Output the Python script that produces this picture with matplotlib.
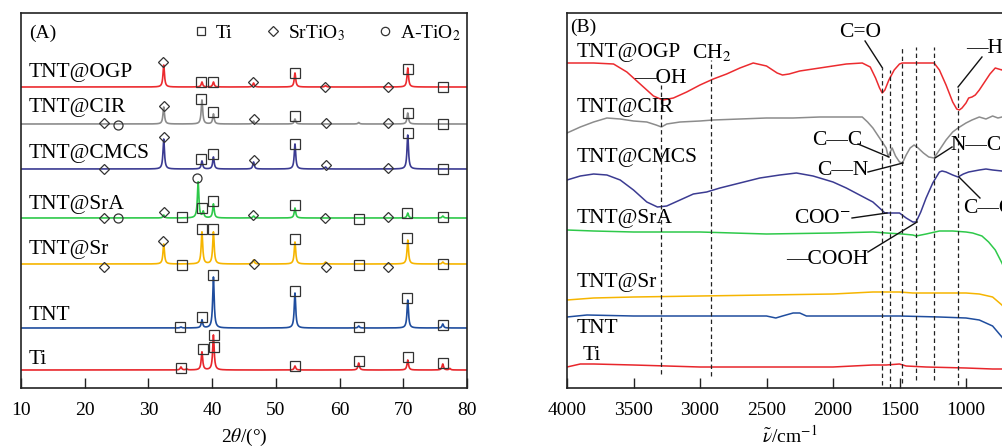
import numpy as np
import matplotlib.pyplot as plt
from matplotlib.lines import Line2D

plt.rcParams['font.family'] = ['Liberation Serif', 'DejaVu Serif']
plt.rcParams['mathtext.fontset'] = 'stix'

# ---------------- XRD (A) ----------------
samples = ['TNT@OGP', 'TNT@CIR', 'TNT@CMCS', 'TNT@SrA', 'TNT@Sr', 'TNT', 'Ti']
xrd_colors = ['#ec2b2f', '#8c8c8c', '#3b3b92', '#2ec94a', '#f6b500', '#1f4d9e', '#e8262b']
xrd_base = [301, 264, 219, 170, 124, 60, 18]

# peak positions (2theta) and heights for each pattern
xrd_pos = [
    [32.4, 38.4, 40.2, 46.5, 53.0, 57.8, 70.7],
    [32.4, 38.4, 40.2, 46.5, 53.0, 63.0, 70.7],
    [32.4, 38.4, 40.2, 46.5, 53.0, 57.8, 70.7],
    [32.4, 37.8, 38.6, 40.2, 46.5, 53.0, 70.7, 76.2],
    [32.4, 38.4, 40.2, 46.5, 53.0, 57.8, 70.7, 76.2],
    [35.1, 38.4, 40.2, 53.0, 63.0, 70.7, 76.2],
    [35.1, 36.0, 38.4, 40.2, 53.0, 63.0, 70.7, 76.2, 77.3],
]
xrd_height = [
    [22, 5, 5, 4, 14, 1.5, 19],
    [17, 24, 10, 3, 5, 1.5, 11],
    [30, 8, 12, 7, 25, 2, 34],
    [3, 36, 6, 14, 2, 10, 5, 2],
    [20, 32, 32, 4, 22, 2, 24, 2],
    [1, 8, 51, 35, 2, 28, 4],
    [3, 1, 18, 35, 4, 7, 10, 6, 1.5],
]

# phase markers: (2theta, height, phase) with s = Ti, d = SrTiO3, o = A-TiO2
xrd_marks = [
    [(32.3, 326, 'd'), (38.3, 306, 's'), (40.2, 306, 's'), (46.4, 306, 'd'), (53.0, 315, 's'),
     (57.7, 301, 'd'), (67.6, 301, 'd'), (70.7, 319, 's'), (76.3, 301, 's')],
    [(23.0, 265, 'd'), (25.3, 263, 'o'), (32.4, 282, 'd'), (38.3, 289, 's'), (40.2, 276, 's'),
     (46.5, 269, 'd'), (53.0, 272, 's'), (57.8, 265, 'd'), (67.6, 265, 'd'), (70.7, 275, 's'),
     (76.3, 264, 's')],
    [(23.0, 219, 'd'), (32.4, 251, 'd'), (38.3, 229, 's'), (40.2, 234, 's'), (46.5, 228, 'd'),
     (53.0, 244, 's'), (57.8, 223, 'd'), (67.6, 220, 'd'), (70.7, 255, 's'), (76.3, 219, 's')],
    [(23.0, 170, 'd'), (25.3, 170, 'o'), (32.4, 176, 'd'), (35.2, 171, 's'), (37.7, 210, 'o'),
     (38.4, 180, 's'), (40.2, 187, 's'), (46.4, 173, 'd'), (53.0, 183, 's'), (57.7, 170, 'd'),
     (63.0, 169, 's'), (67.6, 171, 'd'), (70.6, 175, 's'), (76.3, 171, 's')],
    [(23.0, 121, 'd'), (32.3, 147, 'd'), (35.2, 123, 's'), (38.4, 159, 's'), (40.2, 159, 's'),
     (46.5, 124, 'd'), (53.0, 149, 's'), (57.8, 121, 'd'), (63.0, 123, 's'), (67.6, 121, 'd'),
     (70.6, 150, 's'), (76.2, 124, 's')],
    [(35.0, 61, 's'), (38.4, 71, 's'), (40.2, 113, 's'), (53.0, 97, 's'), (63.0, 61, 's'),
     (70.6, 90, 's'), (76.2, 63, 's')],
    [(35.1, 20, 's'), (38.5, 39, 's'), (40.3, 41, 's'), (40.3, 53, 's'), (53.0, 22, 's'),
     (63.0, 27, 's'), (70.7, 31, 's'), (76.3, 25, 's')],
]
xrd_label_y = [316, 281, 235, 184, 139, 73, 29]

# ---------------- FTIR (B) ----------------
ftir_colors = ['#ec2b2f', '#8c8c8c', '#3b3b92', '#2ec94a', '#f6b500', '#1f4d9e', '#e8262b']
ftir_wn = [
    [4000, 3800, 3650, 3550, 3450, 3350, 3280, 3200, 3100, 3000, 2900, 2800, 2700, 2600, 2500,
     2420, 2380, 2330, 2250, 2150, 2000, 1900, 1780, 1720, 1680, 1650, 1630, 1610, 1580, 1540,
     1500, 1480, 1400, 1300, 1240, 1200, 1150, 1100, 1070, 1050, 1030, 1000, 980, 955, 930,
     900, 860, 820, 780, 730, 690, 650],
    [4000, 3900, 3800, 3700, 3600, 3500, 3400, 3330, 3290, 3250, 3150, 3000, 2900, 2700, 2500,
     2300, 2100, 1900, 1780, 1740, 1700, 1650, 1600, 1585, 1570, 1555, 1530, 1500, 1478, 1450,
     1420, 1390, 1360, 1320, 1280, 1240, 1200, 1150, 1100, 1060, 1000, 955, 900, 850, 800,
     760, 730, 650],
    [4000, 3900, 3800, 3700, 3600, 3500, 3400, 3320, 3250, 3150, 3050, 2950, 2850, 2700, 2550,
     2400, 2275, 2150, 2000, 1900, 1800, 1700, 1650, 1610, 1560, 1500, 1450, 1400, 1375, 1340,
     1300, 1250, 1200, 1180, 1150, 1100, 1060, 1020, 980, 900, 850, 800, 730, 650],
    [4000, 3800, 3500, 3000, 2500, 2000, 1700, 1600, 1480, 1400, 1375, 1300, 1200, 1100, 1000,
     950, 880, 830, 780, 730, 700, 650],
    [4000, 3800, 3500, 3000, 2500, 2000, 1700, 1550, 1500, 1400, 1300, 1000, 900, 800, 730, 650],
    [4000, 3850, 3500, 3000, 2500, 2430, 2380, 2300, 2250, 2200, 2000, 1700, 1500, 1200, 1000,
     900, 800, 730, 650],
    [4000, 3900, 3800, 3500, 3000, 2500, 2000, 1700, 1600, 1500, 1450, 1300, 1000, 800, 730, 650],
]
ftir_val = [
    [325, 325, 324, 316, 304, 292, 288, 290, 296, 303, 309, 314, 320, 325, 322,
     315, 313, 314, 317, 319, 322, 324, 325, 321, 310, 300, 295, 298, 308, 318,
     324, 325, 325, 325, 325, 318, 303, 286, 279, 278, 280, 285, 290, 291, 293,
     298, 306, 314, 320, 318, 325, 328],
    [255, 261, 266, 270, 269, 267, 266, 263, 261, 264, 266, 267, 268, 269, 270,
     270, 271, 271, 271, 266, 260, 250, 240, 231, 236, 240, 232, 226, 225, 233,
     240, 243, 240, 235, 231, 230, 238, 248, 256, 260, 265, 268, 271, 269, 272,
     270, 271, 272],
    [208, 212, 214, 213, 208, 198, 186, 181, 182, 188, 194, 196, 200, 205, 210,
     213, 215, 212, 206, 200, 193, 186, 180, 175, 175, 175, 170, 166, 166, 176,
     190, 205, 216, 217, 216, 213, 211, 214, 216, 218, 219, 218, 217, 216],
    [158, 157, 156, 156, 154, 155, 156, 155, 154, 153, 152, 154, 157, 157, 156,
     155, 152, 146, 138, 125, 116, 103],
    [88, 90, 91, 92, 93, 94, 96, 96, 96, 95, 95, 95, 94, 91, 83, 70],
    [71, 73, 72, 72, 72, 70, 72, 75, 75, 72, 72, 72, 72, 71, 70, 68, 62, 51, 36],
    [21, 24, 24, 23, 21, 21, 21, 23, 23, 24, 22, 21, 20, 19, 19, 19],
]
ftir_label_y = [336, 281, 231, 170, 106, 60, 33]

# assigned bands: wavenumber, top and bottom of the guide line
band_wn = [3290, 2915, 1628, 1570, 1478, 1378, 1240, 1060]
band_top = [303, 328, 320, 318, 341, 341, 341, 301]
band_bot = [14, 12, 3, 0, 5, 8, 8, 3]

# group labels: text, text position, leader start, leader end
groups = [
    ('C=O', (1797, 356), (1759, 347), (1628, 320)),
    ('—H', (857, 340), (880, 331), (1060, 301)),
    ('C—C', (1970, 248), (1812, 244), (1579, 231)),
    ('C—N', (1925, 218), (1737, 216), (1474, 225)),
    ('COO$^{-}$', (2075, 170), (1857, 170), (1594, 175)),
    ('—COOH', (2045, 129), (1737, 136), (1368, 166)),
]
groups_left = [
    ('N—C', (1120, 243), (1233, 230), (1105, 241)),
    ('C—O', (1022, 180), (1053, 211), (895, 190)),
]

fig = plt.figure(figsize=(10.03, 4.48), dpi=100)
axA = fig.add_axes([21 / 1003, 60 / 448, 446 / 1003, 375 / 448])
axB = fig.add_axes([567 / 1003, 60 / 448, 446 / 1003, 375 / 448])

label_fs = 15.5
tick_fs = 14

# --- panel A
tt = np.arange(10, 80.001, 0.02)
gamma = 0.14
marker_map = {'s': 's', 'd': 'D', 'o': 'o'}
marker_size = {'s': 6.5, 'd': 5.2, 'o': 6.5}
for i, name in enumerate(samples):
    y = np.full_like(tt, float(xrd_base[i]))
    for p, h in zip(xrd_pos[i], xrd_height[i]):
        y += h * gamma ** 2 / ((tt - p) ** 2 + gamma ** 2)
    axA.plot(tt, y, color=xrd_colors[i], lw=1.2)
    for x0, y0, k in xrd_marks[i]:
        axA.plot(x0, y0, marker=marker_map[k], ms=marker_size[k], mfc='none',
                 mec='#333333', mew=0.9, ls='none')
    axA.text(11.2, xrd_label_y[i], name, fontsize=label_fs, va='center', ha='left')

axA.text(11.3, 355, '(A)', fontsize=tick_fs, va='center', ha='left')
handles = [
    Line2D([], [], marker='s', ms=6, mfc='none', mec='#333333', mew=0.9, ls='none'),
    Line2D([], [], marker='D', ms=5, mfc='none', mec='#333333', mew=0.9, ls='none'),
    Line2D([], [], marker='o', ms=6, mfc='none', mec='#333333', mew=0.9, ls='none'),
]
axA.legend(handles, ['Ti', 'SrTiO$_3$', 'A-TiO$_2$'], ncol=3, loc='upper right',
           bbox_to_anchor=(1.025, 1.02), frameon=False, fontsize=tick_fs,
           handlelength=0.8, handletextpad=0.35, columnspacing=1.7)

axA.set_xlim(10, 80)
axA.set_ylim(0, 375)
axA.set_xticks([10, 20, 30, 40, 50, 60, 70, 80])
axA.set_yticks([])
axA.set_xlabel(r'2$\theta$/(°)', fontsize=tick_fs, labelpad=6)

# --- panel B
for i, name in enumerate(samples):
    axB.plot(ftir_wn[i], ftir_val[i], color=ftir_colors[i], lw=1.1)
    xl = 3925 if name != 'Ti' else 3880
    axB.text(xl, ftir_label_y[i], name, fontsize=label_fs, va='center', ha='left')

axB.vlines(band_wn, band_bot, band_top, colors='#222222', linestyles=(0, (3.5, 2.5)), lw=0.9)

for txt, tpos, p0, p1 in groups:
    axB.text(tpos[0], tpos[1], txt, fontsize=label_fs, ha='center', va='center')
    axB.plot([p0[0], p1[0]], [p0[1], p1[1]], color='#111111', lw=1.0)
for txt, tpos, p0, p1 in groups_left:
    axB.text(tpos[0], tpos[1], txt, fontsize=label_fs, ha='left', va='center', clip_on=False)
    axB.plot([p0[0], p1[0]], [p0[1], p1[1]], color='#111111', lw=1.0)

axB.text(2910, 336, 'CH$_2$', fontsize=label_fs, ha='center', va='center')
axB.text(3301, 310, '—OH', fontsize=label_fs, ha='center', va='center')
axB.text(3975, 361, '(B)', fontsize=tick_fs, ha='left', va='center')

axB.set_xlim(4000, 4000 - 446 * 3000 / 399)
axB.set_ylim(0, 375)
axB.set_xticks([4000, 3500, 3000, 2500, 2000, 1500, 1000])
axB.set_yticks([])
axB.set_xlabel(r'$\tilde{\nu}$/cm$^{-1}$', fontsize=tick_fs, labelpad=4)

for ax in (axA, axB):
    for sp in ax.spines.values():
        sp.set_linewidth(1.2)
        sp.set_color('#222222')
    ax.tick_params(axis='x', direction='in', length=7, width=1.0, pad=10,
                   labelsize=tick_fs, color='#222222')

fig.savefig('out.png', dpi=100)
